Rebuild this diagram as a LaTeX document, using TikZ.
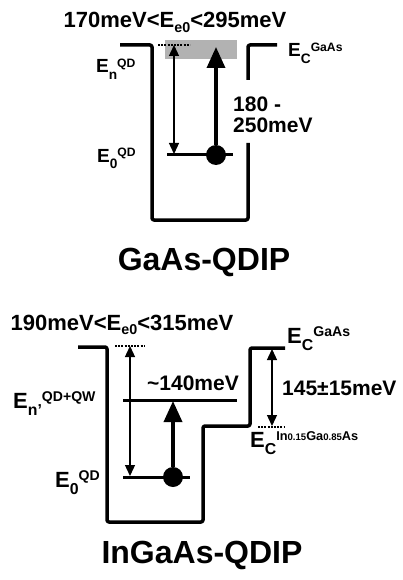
\documentclass[tikz,border=0pt]{standalone}
\usepackage{fontspec}
\setmainfont{Liberation Sans}
\usepackage{graphicx}
\usetikzlibrary{arrows.meta}

% sub- and superscripts for the level labels
\newcommand\lo[1]{\raisebox{-0.32em}{\scalebox{0.72}{#1}}}
\newcommand\hi[1]{\raisebox{0.31em}{\scalebox{0.64}{#1}}}
\newcommand\sub[1]{\raisebox{-0.22em}{\scalebox{0.65}{#1}}}
\newcommand\sm[1]{\scalebox{0.75}{#1}}

\begin{document}
\begin{tikzpicture}[x=1pt,y=-1pt,
  wall/.style={line width=3.5pt,line join=round,rounded corners=2pt},
  level/.style={line width=3pt},
  thin/.style={line width=1.3pt,{Triangle[length=11pt,width=10pt]}-{Triangle[length=11pt,width=10pt]}},
  thick/.style={line width=3.5pt,-{Triangle[length=21pt,width=18pt]}},
  dots/.style={line width=1.2pt,dash pattern=on 2pt off 1.2pt},
  dot/.style={circle,fill,minimum size=20pt,inner sep=0pt},
  lab/.style={inner sep=0pt,anchor=base west,font=\fontsize{19}{21}\selectfont\bfseries},
  biglab/.style={lab,font=\fontsize{22}{24}\selectfont\bfseries},
  num/.style={inner sep=0pt,anchor=base west,font=\fontsize{21}{24}\selectfont\bfseries},
  head/.style={inner sep=0pt,anchor=base,font=\fontsize{22}{26}\selectfont\bfseries},
  devname/.style={inner sep=0pt,anchor=base,font=\fontsize{32}{36}\selectfont\bfseries}]
  \useasboundingbox (0,0) rectangle (402,580);

  % GaAs-QDIP
  \node[head] (range1) at (175,28) {170meV<E\sub{e0}<295meV};
  \fill[gray!60] (165,40) rectangle (237,59);
  \draw[wall] (120,45) -- (152,45) -- (152,220) -- (248,220) -- (248,143);
  \draw[wall] (248,80) -- (248,45) -- (277,45);
  \draw[dots] (158,45) -- (190,45);
  \coordinate (g0a) at (167,155);
  \coordinate (g0b) at (233,155);
  \draw[level] (g0a) -- (g0b);
  \coordinate (gtop) at (174,45);
  \coordinate (gbot) at (174,154);
  \draw[thin] (gtop) -- (gbot);
  \node[dot] (el1) at (216,155) {};
  \coordinate (gexc) at (216,47);
  \draw[thick] (el1) -- (gexc);
  \node[lab] (en1) at (96,73) {E\lo{n}\hi{QD}};
  \node[lab] (e01) at (97,162) {E\lo{0}\hi{QD}};
  \node[lab] (ec1) at (288,57) {E\lo{C}\hi{GaAs}};
  \node[num] (de1) at (233,112) {180 -};
  \node[num] (de2) at (233,133) {250meV};
  \node[devname] (dev1) at (204,270) {GaAs-QDIP};

  % InGaAs-QDIP
  \node[head] (range2) at (122,330) {190meV<E\sub{e0}<315meV};
  \draw[wall] (78,347) -- (107,347) -- (107,522) -- (203,522) -- (203,426)
    -- (250,426) -- (250,348) -- (285,348);
  \draw[dots] (115,346) -- (145,346);
  \draw[dots] (258,427) -- (285,427);
  \coordinate (qwa) at (123,400);
  \coordinate (qwb) at (237,400);
  \draw[level] (qwa) -- (qwb);
  \coordinate (i0a) at (123,477);
  \coordinate (i0b) at (190,477);
  \draw[level] (i0a) -- (i0b);
  \coordinate (itop) at (130,346);
  \coordinate (ibot) at (130,476);
  \draw[thin] (itop) -- (ibot);
  \node[dot] (el2) at (173,477) {};
  \coordinate (iexc) at (173,401);
  \draw[thick] (el2) -- (iexc);
  \coordinate (btop) at (272,349);
  \coordinate (bbot) at (272,426);
  \draw[thin] (btop) -- (bbot);
  \node[biglab] (en2) at (13,408) {E\lo{n'}\hi{QD+QW}};
  \node[biglab] (e02) at (55,487) {E\lo{0}\hi{QD}};
  \node[biglab] (ec2) at (287,343) {E\lo{C}\hi{GaAs}};
  \node[biglab] (ec3) at (250,447) {E\lo{C}\raisebox{0.31em}{\scalebox{0.58}{In\sm{0.15}Ga\sm{0.85}As}}};
  \node[num] (de3) at (147,390) {\textasciitilde140meV};
  \node[num] (de4) at (282,395) {145±15meV};
  \node[devname] (dev2) at (202,563) {InGaAs-QDIP};
\end{tikzpicture}
\end{document}
